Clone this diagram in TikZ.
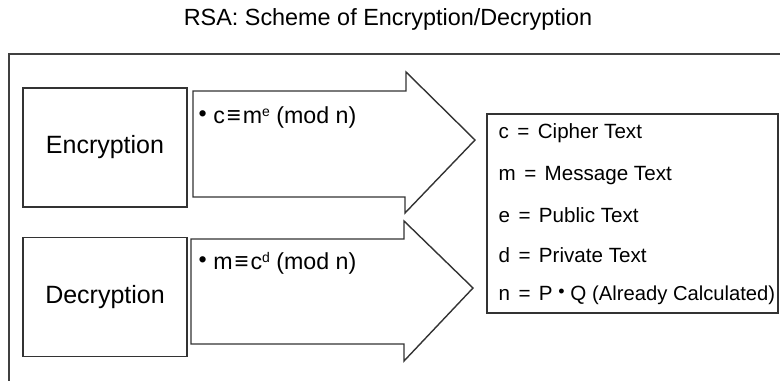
\documentclass[tikz,border=0pt]{standalone}
\usepackage{fontspec}
\setmainfont{Liberation Sans}
\usetikzlibrary{positioning}
\newcommand{\eqsign}{\hspace{4.2pt}=\hspace{4.2pt}}

\begin{document}
\begin{tikzpicture}[
  x=0.5pt, y=-0.5pt,
  line width=0.7pt,
  box/.style={draw=black!80, minimum width=82pt, minimum height=59.5pt, inner sep=0pt, font=\fontsize{12.5}{15}\selectfont},
  shaft/.style={draw=black!80, line join=miter},
  fml/.style={anchor=west, inner sep=0pt, font=\fontsize{11.6}{13}\selectfont},
  key/.style={anchor=west, inner sep=0pt, font=\fontsize{10.3}{12}\selectfont},
]
\useasboundingbox (0,0) rectangle (780,380);
\clip (0,0) rectangle (780,380);
% title and frame
\node[font=\fontsize{11.7}{14}\selectfont] (title) at (388,19) {RSA: Scheme of Encryption/Decryption};
\draw[black!75] (9,54) rectangle (800,400);
% left boxes
\node[box] (enc) at (105,147.5) {Encryption};
\node[box, below=14.5pt of enc] (dec) {Decryption};
% block arrows
\draw[shaft] (193,91) -- (406,91) -- (406,72) -- (475,140) -- (405,213) -- (405,197) -- (193,197) -- cycle;
\draw[shaft] (191,239) -- (404,239) -- (404,221) -- (473,288) -- (404,361) -- (404,344) -- (191,344) -- cycle;
\node[fml] (encf) at (198,117) {\raisebox{1pt}{\textbullet}\ c\kern1pt{\large≡}\kern1pt m{\fontsize{7}{8}\selectfont\raisebox{3.5pt}{e}} (mod n)};
\node[fml] (decf) at (198,263) {\raisebox{1pt}{\textbullet}\ m\kern1pt{\large≡}\kern1pt c{\fontsize{7}{8}\selectfont\raisebox{3.5pt}{d}} (mod n)};
% legend
\node[draw=black!80, minimum width=145.5pt, minimum height=99.5pt] (legend) at (632.5,213.5) {};
\node[key] (kc) at (498,133) {c\eqsign Cipher Text};
\node[key] (km) at (498,176) {m\eqsign Message Text};
\node[key] (ke) at (498,215) {e\eqsign Public Text};
\node[key] (kd) at (498,255) {d\eqsign Private Text};
\node[key] (kn) at (498,295) {n\eqsign P \raisebox{1.5pt}{\small\textbullet} Q {\fontsize{10.1}{12}\selectfont(Already Calculated)}};
\end{tikzpicture}
\end{document}
